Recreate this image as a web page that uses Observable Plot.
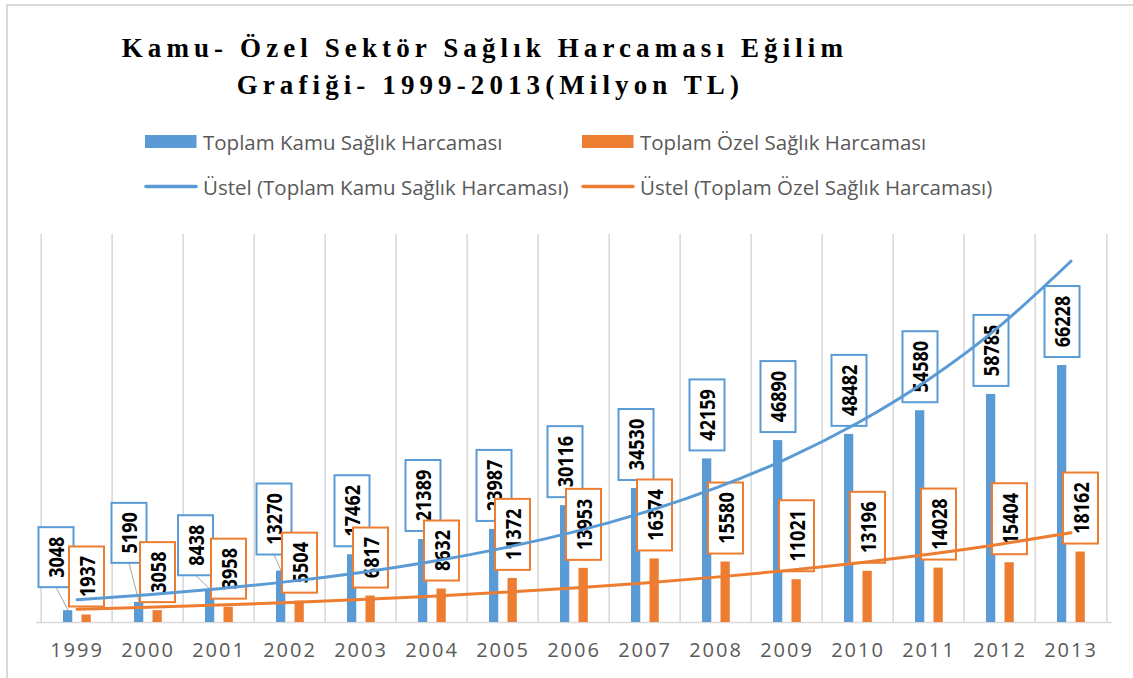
<!DOCTYPE html>
<html>
<head>
<meta charset="utf-8">
<script src="https://cdn.jsdelivr.net/npm/d3@7"></script>
<script src="https://cdn.jsdelivr.net/npm/@observablehq/plot@0.6"></script>
<style>
html, body { margin: 0; padding: 0; background: #fff; }
#wrap { position: relative; width: 1133px; height: 678px; overflow: hidden; background: #fff; }
#frame { position: absolute; left: 6px; top: 4px; width: 1400px; height: 900px; border-left: 2px solid #D9D9D9; border-top: 2px solid #D9D9D9; pointer-events: none; }
#header, #chart svg { display: block; }
g[aria-label="x-axis tick label"] text { letter-spacing: 2px; }
</style>
</head>
<body>
<div id="wrap">
  <svg id="header" width="1133" height="210"></svg>
  <div id="chart"></div>
  <div id="frame"></div>
</div>
<script>
// ---- data (Milyon TL) ----
const years = ["1999","2000","2001","2002","2003","2004","2005","2006","2007","2008","2009","2010","2011","2012","2013"];
const kamu = [3048, 5190, 8438, 13270, 17462, 21389, 23987, 30116, 34530, 42159, 46890, 48482, 54580, 58785, 66228];
const ozel = [1937, 3058, 3958, 5504, 6817, 8632, 11372, 13953, 16374, 15580, 11021, 13196, 14028, 15404, 18162];
// exponential trend lines at each year
const kamuTrend = [5860, 7140, 8700, 10600, 12910, 15730, 19170, 23360, 28460, 34680, 42260, 51490, 62720, 76430, 93120];
const ozelTrend = [3430, 3930, 4505, 5165, 5915, 6780, 7770, 8905, 10205, 11695, 13405, 15360, 17605, 20180, 23130];
const seriesNames = ["Toplam Kamu Sağlık Harcaması", "Toplam Özel Sağlık Harcaması"];
const trendNames = ["Üstel (Toplam Kamu Sağlık Harcaması)", "Üstel (Toplam Özel Sağlık Harcaması)"];
const titleLines = ["Kamu- Özel Sektör Sağlık Harcaması Eğilim", "Grafiği- 1999-2013(Milyon TL)"];

// ---- style / layout ----
const BLUE = "#5B9BD5", ORANGE = "#ED7D31", GRID = "#D9D9D9", TEXT = "#595959";
const W = 1133, H = 468, ML = 36, MR = 21.3, MT = 24, MB = 56;
const BW = (W - ML - MR) / years.length;
// manual label moves (px) for the first Kamu labels, as in the original
const kamuLabelNudge = {"1999": [-12, -15], "2000": [-10, -31], "2001": [-14.5, -6], "2002": [-7, -8]};

const kamuRows = years.map((year, i) => ({year, value: kamu[i]}));
const ozelRows = years.map((year, i) => ({year, value: ozel[i]}));
const kamuTrendRows = years.map((year, i) => ({year, value: kamuTrend[i]}));
const ozelTrendRows = years.map((year, i) => ({year, value: ozelTrend[i]}));

// ---- header: title + legend ----
const hdr = d3.select("#header");
const titleX = [121.7, 236.7], titleY = [57.3, 94];
titleLines.forEach((t, i) => {
  hdr.append("text").attr("x", titleX[i]).attr("y", titleY[i])
    .attr("font-family", "'Liberation Serif', 'Times New Roman', serif")
    .attr("font-weight", "bold").attr("font-size", 27).attr("letter-spacing", "5.1px")
    .attr("fill", "#000").text(t);
});
const legX = [145, 582], legTextX = [203, 640], legY = [141.5, 186.5], cols = [BLUE, ORANGE];
[0, 1].forEach(i => {
  hdr.append("rect").attr("x", legX[i]).attr("y", legY[0] - 6.5).attr("width", 51.5).attr("height", 13).attr("fill", cols[i]);
  hdr.append("text").attr("x", legTextX[i]).attr("y", legY[0]).attr("dominant-baseline", "central")
    .attr("font-family", "'Open Sans', sans-serif").attr("font-size", 20.5).attr("fill", TEXT).text(seriesNames[i]);
  hdr.append("line").attr("x1", legX[i] + 1).attr("x2", legX[i] + 51).attr("y1", legY[1]).attr("y2", legY[1])
    .attr("stroke", cols[i]).attr("stroke-width", 3.5).attr("stroke-linecap", "round");
  hdr.append("text").attr("x", legTextX[i]).attr("y", legY[1]).attr("dominant-baseline", "central")
    .attr("font-family", "'Open Sans', sans-serif").attr("font-size", 20.5).attr("fill", TEXT).text(trendNames[i]);
});

// ---- boxed value labels (drawn through Plot's scales) ----
function labelMark(rows, color, barCenter, nudge) {
  return (index, scales) => {
    const x = scales.x, y = scales.y;
    const g = d3.create("svg:g").attr("aria-label", "value labels");
    for (const r of rows) {
      const bx = x(r.year) + barCenter;
      const by = y(r.value);
      const label = String(r.value);
      const w = 35, h = label.length >= 5 ? 71 : 60;
      const n = nudge[r.year] || [0, 0];
      const cx = bx + n[0], cy = by - 8 - h / 2 + n[1];
      if (nudge[r.year]) {
        g.append("line").attr("x1", bx).attr("y1", by).attr("x2", cx).attr("y2", cy + h / 2)
          .attr("stroke", "#A6A6A6").attr("stroke-width", 1);
      }
      g.append("rect").attr("x", cx - w / 2).attr("y", cy - h / 2).attr("width", w).attr("height", h)
        .attr("fill", "#fff").attr("stroke", color).attr("stroke-width", 2);
      g.append("text").attr("transform", `translate(${cx},${cy}) rotate(-90) scale(1,1.2)`)
        .attr("text-anchor", "middle").attr("dominant-baseline", "central")
        .attr("font-family", "'Open Sans', sans-serif").attr("font-weight", "bold")
        .attr("font-size", 18).attr("fill", "#000").text(label);
    }
    return g.node();
  };
}

const blueInset = {insetLeft: 22, insetRight: BW - 32};
const orangeInset = {insetLeft: 40.5, insetRight: BW - 50.5};

const plot = Plot.plot({
  width: W, height: H,
  marginLeft: ML, marginRight: MR, marginTop: MT, marginBottom: MB,
  x: {domain: years, padding: 0, axis: null, label: null},
  y: {domain: [0, 100000], axis: null},
  style: {fontFamily: "'Open Sans', sans-serif", fontSize: "20px", color: TEXT, background: "#fff", overflow: "visible"},
  marks: [
    Plot.ruleX(years, {x: d => d, dx: -BW / 2, stroke: GRID, strokeWidth: 1.6}),
    Plot.ruleX(years.slice(-1), {x: d => d, dx: BW / 2, stroke: GRID, strokeWidth: 1.6}),
    Plot.ruleY([0], {stroke: GRID, strokeWidth: 1.6}),
    Plot.axisX({tickSize: 0, tickPadding: 20, fontSize: 20, fill: TEXT, label: null}),
    Plot.barY(kamuRows, {x: "year", y: "value", fill: BLUE, ...blueInset}),
    Plot.barY(ozelRows, {x: "year", y: "value", fill: ORANGE, ...orangeInset}),
    labelMark(kamuRows, BLUE, 27, kamuLabelNudge),
    labelMark(ozelRows, ORANGE, 45.5, {}),
    Plot.line(kamuTrendRows, {x: "year", y: "value", stroke: BLUE, strokeWidth: 3, curve: "natural"}),
    Plot.line(ozelTrendRows, {x: "year", y: "value", stroke: ORANGE, strokeWidth: 3, curve: "natural"})
  ]
});
plot.style.maxWidth = "none";
document.getElementById("chart").appendChild(plot);
</script>
</body>
</html>
